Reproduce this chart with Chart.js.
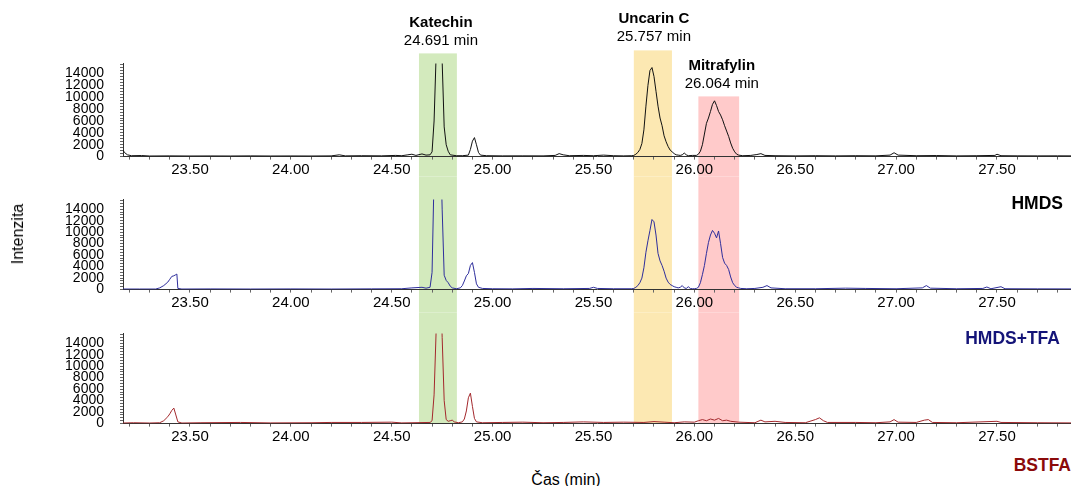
<!DOCTYPE html>
<html>
<head>
<meta charset="utf-8">
<script src="https://cdn.jsdelivr.net/npm/chart.js@4.4.0/dist/chart.umd.min.js"></script>
<style>
  html, body { margin: 0; padding: 0; background: #fff; }
  #wrap { position: relative; width: 1071px; height: 486px; overflow: hidden; font-family: 'Liberation Sans', Arial, sans-serif; }
  #wrap canvas { position: absolute; left: 0; }
  .txt { position: absolute; white-space: nowrap; color: #000; }
  .peak { font-size: 15px; line-height: 18px; text-align: center; transform: translateX(-50%); }
  .peak b { display: block; }
  .series { font-size: 17.5px; line-height: 20px; font-weight: bold; }
</style>
</head>
<body>
<div id="wrap">
  <canvas id="c1" width="1071" height="160"></canvas>
  <canvas id="c2" width="1071" height="160"></canvas>
  <canvas id="c3" width="1071" height="160"></canvas>
</div>
<script>
// axis range and ticks
const timeMin = 23.168;
const timeMax = 27.867;
const xTickLabels = [23.5, 24.0, 24.5, 25.0, 25.5, 26.0, 26.5, 27.0, 27.5];
const yTickLabels = [0, 2000, 4000, 6000, 8000, 10000, 12000, 14000];
const intensityMax = 15700;

// highlighted peaks
const peakNames = ['Katechin', 'Uncarin C', 'Mitrafylin'];
const peakTimes = ['24.691 min', '25.757 min', '26.064 min'];
const bandFrom = [24.635, 25.700, 26.020];
const bandTo = [24.823, 25.889, 26.222];

// series names
const seriesNames = ['HMDS', 'HMDS+TFA', 'BSTFA'];

// [time (min), intensity]
const hmdsData = [
  [23.168, 1100], [23.175, 700], [23.19, 300], [23.21, 150], [23.26, 180], [23.30, 100], [23.40, 120],
  [23.50, 100], [23.60, 110], [23.70, 100], [23.80, 120], [23.90, 100], [24.00, 110], [24.10, 100],
  [24.20, 120], [24.24, 300], [24.27, 120], [24.35, 150], [24.45, 130], [24.52, 200], [24.55, 150],
  [24.58, 300], [24.60, 400], [24.62, 200], [24.65, 450], [24.67, 250],
  [24.69, 300], [24.70, 800], [24.71, 6000], [24.72, 17000], [24.73, 30000], [24.74, 30000],
  [24.75, 16000], [24.76, 5000], [24.77, 2000], [24.78, 900], [24.79, 300],
  [24.82, 150], [24.85, 150], [24.88, 250], [24.89, 1200], [24.90, 2600], [24.91, 3200], [24.92, 2000],
  [24.93, 700], [24.94, 250], [24.97, 150],
  [25.05, 120], [25.15, 130], [25.25, 120], [25.31, 200], [25.33, 500], [25.35, 300], [25.38, 150],
  [25.45, 200], [25.50, 150], [25.55, 250], [25.60, 150], [25.65, 120],
  [25.69, 150], [25.70, 200], [25.71, 400], [25.72, 700], [25.73, 1200], [25.74, 2200], [25.75, 4500],
  [25.76, 8500], [25.77, 12000], [25.78, 14500], [25.79, 15000], [25.80, 13500], [25.81, 11000],
  [25.82, 8500], [25.83, 6500], [25.84, 5200], [25.85, 3500], [25.86, 2500], [25.87, 1700], [25.88, 1100],
  [25.89, 800], [25.90, 500], [25.91, 300], [25.92, 250], [25.93, 200], [25.94, 300], [25.95, 600],
  [25.96, 300], [25.97, 150], [25.99, 200],
  [26.01, 200], [26.02, 400], [26.03, 900], [26.04, 2000], [26.05, 3800], [26.06, 5600], [26.07, 6500],
  [26.08, 7600], [26.09, 8800], [26.10, 9400], [26.11, 8600], [26.12, 7600], [26.13, 7000], [26.14, 6200],
  [26.15, 5200], [26.16, 4300], [26.17, 3400], [26.18, 2300], [26.19, 1400], [26.20, 800], [26.21, 400],
  [26.22, 250], [26.24, 150],
  [26.28, 200], [26.31, 350], [26.33, 500], [26.35, 200], [26.40, 150], [26.50, 120], [26.60, 150],
  [26.70, 120], [26.80, 150], [26.90, 130], [26.97, 250], [26.99, 650], [27.01, 250], [27.10, 150],
  [27.20, 180], [27.30, 120], [27.40, 150], [27.49, 200], [27.50, 400], [27.52, 150], [27.60, 130],
  [27.70, 120], [27.80, 130], [27.87, 120]
];

const hmdsTfaData = [
  [23.168, 100], [23.25, 100], [23.33, 100], [23.35, 300], [23.37, 700], [23.39, 1300], [23.40, 1800],
  [23.41, 2300], [23.42, 2400], [23.43, 2600], [23.435, 2700], [23.44, 200], [23.46, 100],
  [23.60, 120], [23.80, 100], [24.00, 120], [24.20, 100], [24.40, 130], [24.55, 150], [24.60, 300],
  [24.65, 400], [24.67, 250],
  [24.69, 400], [24.70, 3000], [24.71, 20000], [24.72, 30000], [24.73, 30000], [24.74, 28000],
  [24.75, 14000], [24.76, 2500], [24.77, 1600], [24.78, 1200], [24.79, 600], [24.80, 300], [24.82, 150],
  [24.84, 300], [24.85, 700], [24.86, 1500], [24.87, 2400], [24.88, 2800], [24.89, 4200], [24.90, 4700],
  [24.91, 3000], [24.92, 1000], [24.93, 400], [24.95, 200],
  [25.00, 150], [25.10, 130], [25.20, 200], [25.35, 150], [25.48, 200], [25.50, 400], [25.52, 200],
  [25.60, 150], [25.69, 150],
  [25.70, 200], [25.71, 400], [25.72, 700], [25.73, 1200], [25.74, 2000], [25.75, 3800], [25.76, 6500],
  [25.77, 8500], [25.78, 10300], [25.79, 12200], [25.80, 11800], [25.81, 9500], [25.82, 6300],
  [25.83, 5000], [25.84, 4200], [25.85, 3200], [25.86, 2000], [25.87, 1300], [25.88, 900], [25.89, 700],
  [25.90, 500], [25.91, 400], [25.92, 300], [25.93, 400], [25.94, 700], [25.95, 300], [25.96, 200],
  [25.97, 500], [25.98, 200], [25.99, 150], [26.00, 150],
  [26.01, 200], [26.02, 400], [26.03, 1200], [26.04, 2600], [26.05, 4200], [26.06, 6300], [26.07, 8200],
  [26.08, 9500], [26.09, 10300], [26.10, 9800], [26.11, 9000], [26.12, 10200], [26.13, 8000],
  [26.14, 5600], [26.15, 4600], [26.16, 4200], [26.17, 3500], [26.18, 2200], [26.19, 1200], [26.20, 700],
  [26.21, 400], [26.22, 300], [26.23, 200], [26.26, 150],
  [26.30, 200], [26.34, 400], [26.36, 700], [26.38, 300], [26.45, 150], [26.60, 150], [26.75, 250],
  [26.85, 200], [27.00, 150], [27.13, 300], [27.15, 700], [27.17, 250], [27.30, 150], [27.43, 200],
  [27.45, 450], [27.47, 150], [27.52, 500], [27.54, 150], [27.70, 130], [27.87, 120]
];

const bstfaData = [
  [23.168, 100], [23.22, 150], [23.30, 100], [23.35, 150], [23.37, 500], [23.39, 1200], [23.40, 1700],
  [23.41, 2300], [23.42, 2700], [23.43, 1500], [23.44, 300], [23.46, 100], [23.55, 150], [23.75, 200],
  [23.90, 120], [24.10, 150], [24.20, 200], [24.35, 200], [24.50, 250], [24.55, 120],
  [24.69, 200], [24.70, 500], [24.71, 5000], [24.72, 16000], [24.73, 28000], [24.74, 28000],
  [24.75, 15000], [24.76, 4000], [24.77, 700], [24.78, 400], [24.79, 500], [24.80, 600], [24.81, 300],
  [24.83, 150], [24.85, 300], [24.86, 800], [24.87, 2200], [24.88, 4500], [24.89, 5300], [24.90, 3000],
  [24.91, 900], [24.92, 300], [24.95, 150],
  [25.05, 200], [25.15, 250], [25.25, 150], [25.35, 200], [25.45, 300], [25.55, 200], [25.65, 250],
  [25.75, 200], [25.80, 350], [25.85, 250], [25.90, 150], [25.95, 300], [26.00, 250], [26.02, 500],
  [26.04, 700], [26.06, 500], [26.08, 800], [26.10, 600], [26.12, 900], [26.14, 500], [26.16, 600],
  [26.18, 400], [26.22, 250], [26.30, 150], [26.33, 600], [26.35, 300], [26.40, 400], [26.45, 200],
  [26.55, 150], [26.60, 700], [26.62, 1000], [26.64, 500], [26.66, 200], [26.80, 200], [26.90, 150],
  [26.97, 300], [26.99, 700], [27.01, 250], [27.10, 200], [27.14, 600], [27.16, 700], [27.18, 200],
  [27.30, 150], [27.50, 400], [27.52, 200], [27.70, 150], [27.87, 120]
];

const FONT = "'Liberation Sans', Arial, sans-serif";
const bandColors = ['#d3eabd', '#fce8b2', '#ffcaca'];
const bandTopPx = [53, 50, 96];   // page y where each band starts
const bandBottomPx = 423;          // bottom axis of the last panel

// Bands drawn behind each panel; each canvas only paints its own slice of the page
const bandPlugin = {
  id: 'bands',
  beforeDraw(chart, args, opts) {
    const ctx = chart.ctx;
    const xs = chart.scales.x;
    const off = opts.pageTop;
    ctx.save();
    bandFrom.forEach((from, i) => {
      const x1 = xs.getPixelForValue(from);
      const x2 = xs.getPixelForValue(bandTo[i]);
      const y1 = Math.max(bandTopPx[i], opts.ownTop) - off;
      const y2 = Math.min(bandBottomPx, opts.ownBottom) - off;
      if (y2 > y1) {
        ctx.fillStyle = bandColors[i];
        ctx.fillRect(x1, y1, x2 - x1, y2 - y1);
      }
    });
    ctx.restore();
  }
};

function panelConfig(data, color, band) {
  return {
    type: 'line',
    data: {
      datasets: [{
        data: data.map(p => ({ x: p[0], y: p[1] })),
        borderColor: color,
        borderWidth: 1,
        pointRadius: 0,
        tension: 0,
        fill: false
      }]
    },
    options: {
      responsive: false,
      maintainAspectRatio: false,
      animation: false,
      events: [],
      layout: { padding: { top: 20, left: 10, right: 0, bottom: 0 } },
      plugins: {
        legend: { display: false },
        tooltip: { enabled: false },
        bands: band
      },
      scales: {
        x: {
          type: 'linear',
          min: timeMin,
          max: timeMax,
          afterBuildTicks(s) {
            const t = [];
            for (let v = 23.2; v < timeMax; v += 0.1) t.push({ value: Math.round(v * 10) / 10 });
            s.ticks = t;
          },
          grid: { drawOnChartArea: false, tickLength: 3, tickColor: '#666' },
          border: { color: '#333', width: 1 },
          ticks: {
            autoSkip: false,
            maxRotation: 0,
            padding: 1,
            color: '#000',
            font: { family: FONT, size: 15 },
            callback: v => xTickLabels.some(t => Math.abs(t - v) < 1e-6) ? v.toFixed(2) : ''
          }
        },
        y: {
          min: 0,
          max: intensityMax,
          afterBuildTicks(s) {
            const t = [];
            for (let v = 0; v <= 15500; v += 500) t.push({ value: v });
            s.ticks = t;
          },
          afterFit(s) { s.width = 113; },
          grid: { drawOnChartArea: false, tickLength: 3, tickColor: '#666' },
          border: { color: '#333', width: 1 },
          ticks: {
            autoSkip: false,
            padding: 16,
            color: '#000',
            font: { family: FONT, size: 14 },
            callback: v => yTickLabels.includes(v) ? String(v) : ''
          }
        }
      }
    },
    plugins: [bandPlugin]
  };
}

// place a panel so its plot area spans page rows [top, bottom]
function makePanel(id, data, color, top, bottom, ownTop, ownBottom) {
  const canvas = document.getElementById(id);
  let chart = new Chart(canvas, panelConfig(data, color, { pageTop: 0, ownTop: 0, ownBottom: 0 }));
  const padTop = chart.chartArea.top;
  const below = chart.height - chart.chartArea.bottom;
  chart.destroy();
  canvas.width = 1071;
  canvas.height = Math.round(padTop + (bottom - top) + below);
  const pageTop = top - padTop;
  canvas.style.top = pageTop + 'px';
  return new Chart(canvas, panelConfig(data, color, { pageTop: pageTop, ownTop: ownTop, ownBottom: ownBottom }));
}

const chart1 = makePanel('c1', hmdsData, '#111111', 63, 156, 0, 176);
makePanel('c2', hmdsTfaData, '#2e2e9c', 199, 289, 176, 312);
makePanel('c3', bstfaData, '#a3282c', 333, 423, 312, 423);

// peak labels over the bands
const wrap = document.getElementById('wrap');
const nameTop = [13, 9, 56];
const nudge = [3, 1, 3];
peakNames.forEach((name, i) => {
  const d = document.createElement('div');
  d.className = 'txt peak';
  const cx = chart1.scales.x.getPixelForValue((bandFrom[i] + bandTo[i]) / 2) + nudge[i];
  d.style.left = cx + 'px';
  d.style.top = nameTop[i] + 'px';
  d.innerHTML = '<b>' + name + '</b>' + peakTimes[i];
  wrap.appendChild(d);
});

// series labels
const seriesColors = ['#000000', '#141478', '#8b0a0a'];
const seriesRight = [8, 11, 0];
const seriesTop = [193, 328, 455];
seriesNames.forEach((name, i) => {
  const d = document.createElement('div');
  d.className = 'txt series';
  d.style.right = seriesRight[i] + 'px';
  d.style.top = seriesTop[i] + 'px';
  d.style.color = seriesColors[i];
  d.textContent = name;
  wrap.appendChild(d);
});

// axis titles
const yTitle = document.createElement('div');
yTitle.className = 'txt';
yTitle.style.cssText = 'left:18px;top:234px;font-size:16px;transform:translate(-50%,-50%) rotate(-90deg);';
yTitle.textContent = 'Intenzita';
wrap.appendChild(yTitle);

const xTitle = document.createElement('div');
xTitle.className = 'txt';
xTitle.style.cssText = 'left:566px;top:480px;font-size:16px;transform:translate(-50%,-50%);';
xTitle.textContent = 'Čas (min)';
wrap.appendChild(xTitle);
</script>
</body>
</html>
